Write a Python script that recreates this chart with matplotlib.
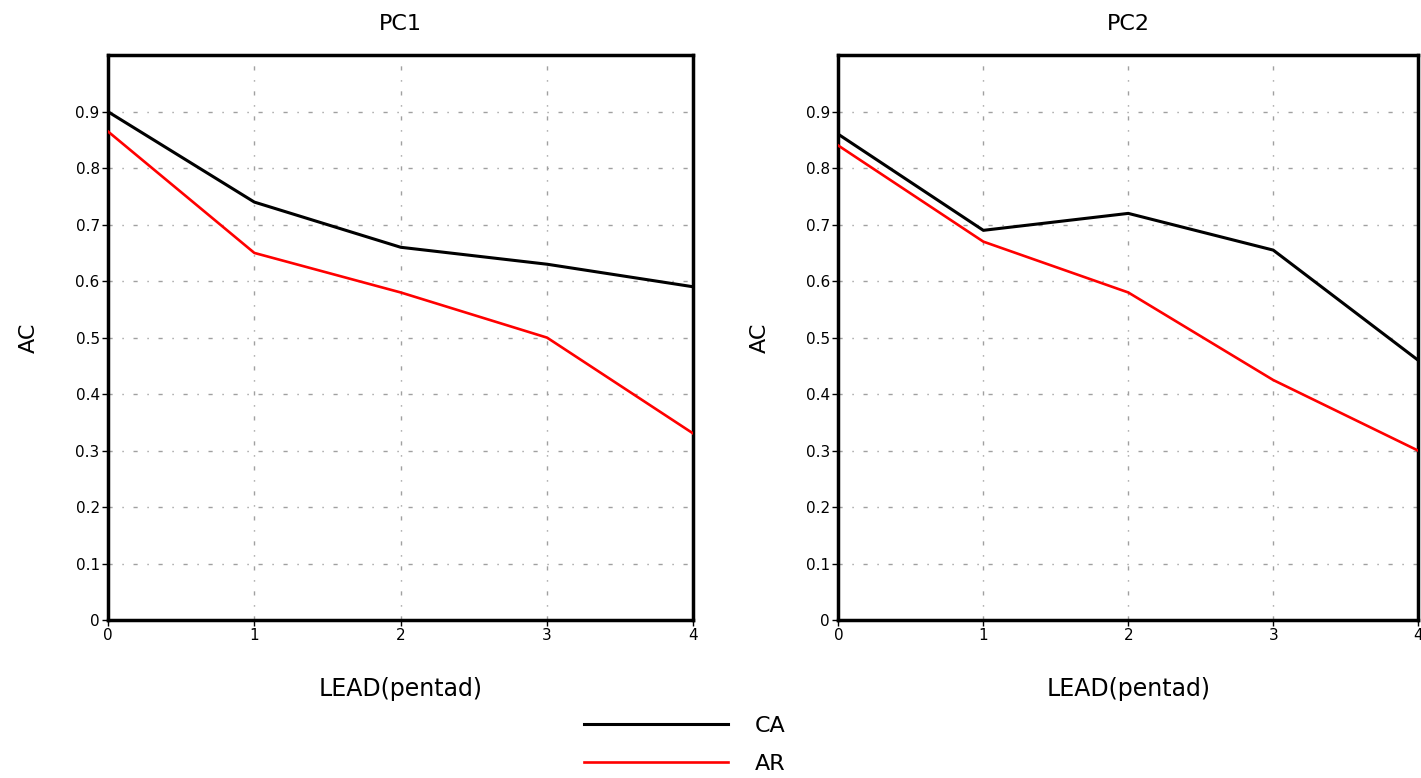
import matplotlib.pyplot as plt
import numpy as np
from matplotlib.lines import Line2D
from matplotlib.ticker import FuncFormatter

lead = [0, 1, 2, 3, 4]

# PC1 anomaly correlation
pc1_ca = [0.90, 0.74, 0.66, 0.63, 0.59]
pc1_ar = [0.865, 0.65, 0.58, 0.50, 0.33]

# PC2 anomaly correlation
pc2_ca = [0.86, 0.69, 0.72, 0.655, 0.46]
pc2_ar = [0.84, 0.67, 0.58, 0.425, 0.30]

titles = ['PC1', 'PC2']
series = [(pc1_ca, pc1_ar), (pc2_ca, pc2_ar)]
yticks = [0, 0.1, 0.2, 0.3, 0.4, 0.5, 0.6, 0.7, 0.8, 0.9]

fig = plt.figure(figsize=(14.21, 7.78), dpi=100)
boxes = [[0.076, 0.203, 0.412, 0.726], [0.590, 0.203, 0.408, 0.726]]

fmt = FuncFormatter(lambda v, p: '0' if abs(v) < 1e-9 else f'{v:.1f}')

for box, title, (ca, ar) in zip(boxes, titles, series):
    ax = fig.add_axes(box)
    ax.plot(lead, ca, color='black', lw=2.2, zorder=3)
    ax.plot(lead, ar, color='red', lw=1.9, zorder=3)
    ax.set_xlim(0, 4)
    ax.set_ylim(0, 1.0)
    ax.set_xticks(lead)
    ax.set_yticks(yticks)
    ax.yaxis.set_major_formatter(fmt)
    ax.tick_params(direction='out', length=4, width=1, labelsize=11, pad=2)
    ax.grid(True, color='#a0a0a0', lw=1.0, linestyle=(0, (3, 7, 1, 7)))
    for s in ax.spines.values():
        s.set_linewidth(2.5)
    ax.set_title(title, fontsize=16, pad=18)
    ax.set_ylabel('AC', fontsize=16, labelpad=26)
    ax.set_xlabel('LEAD(pentad)', fontsize=17, labelpad=24)

handles = [Line2D([], [], color='black', lw=2.2), Line2D([], [], color='red', lw=1.9)]
fig.legend(handles, ['CA', 'AR'], loc='upper left', bbox_to_anchor=(0.403, 0.094),
           frameon=False, fontsize=16, handlelength=6.5, handletextpad=1.2,
           labelspacing=0.8, borderpad=0)

fig.savefig('out.png', dpi=100)
